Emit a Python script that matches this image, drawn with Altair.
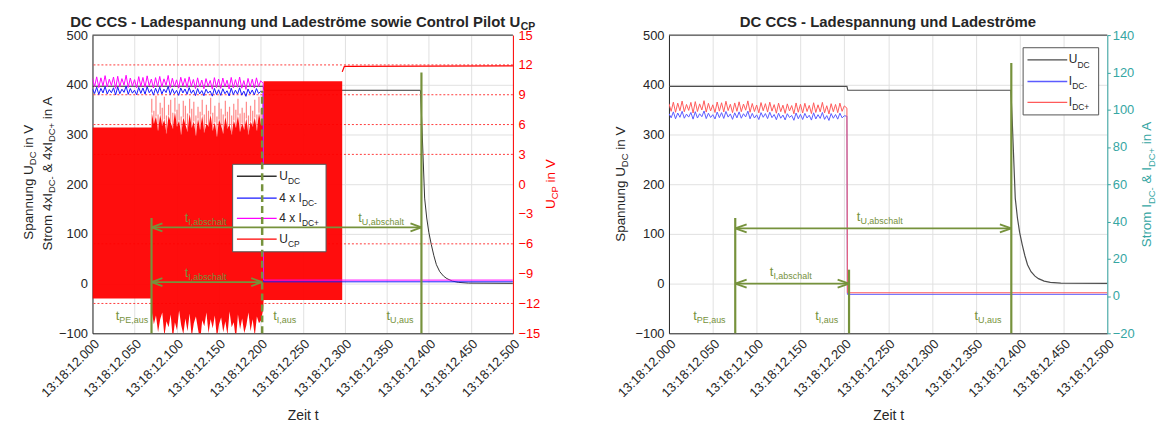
import altair as alt
import pandas as pd

FONT = "Liberation Sans"
INK = "#262626"
GRID = "#E1E1E1"
GREEN = "#76923C"
RED = "#FF0000"
TEAL = "#36A6A3"
W_L, W_R, H = 423, 441, 300

# ---------------- values ----------------
X_TICKS = [0.0, 0.05, 0.1, 0.15, 0.2, 0.25, 0.3, 0.35, 0.4, 0.45, 0.5]
X_LABELS = ["13:18:12.000", "13:18:12.050", "13:18:12.100", "13:18:12.150",
            "13:18:12.200", "13:18:12.250", "13:18:12.300", "13:18:12.350",
            "13:18:12.400", "13:18:12.450", "13:18:12.500"]
U_TICKS = [-100, 0, 100, 200, 300, 400, 500]
CP_TICKS = [-15, -12, -9, -6, -3, 0, 3, 6, 9, 12, 15]
I_TICKS = [-20, 0, 20, 40, 60, 80, 100, 120, 140]
CP_LEVELS = [12, 9, 6, 3, -6, -12]

# charging voltage U_DC (V)
T_U = [0.0, 0.2030, 0.2040, 0.3900, 0.3915, 0.3930, 0.3950, 0.3975, 0.4000,
       0.4030, 0.4060, 0.4090, 0.4130, 0.4175, 0.4215, 0.4280, 0.4350, 0.4470, 0.5000]
U_DC = [397, 397, 389, 389, 330, 262, 172, 132, 103, 78, 56, 38, 24, 15, 10, 5, 2.5, 1, 0.5]

# charging currents (A), sampled every 2.5 ms until the switch-off
I_STEP = 0.0025
I_PLUS_RIPPLE = [
    103.2, 99.1, 104.0, 98.6, 103.5, 99.4, 104.6, 98.9, 102.8, 99.6, 103.9, 98.2, 104.3, 99.0, 103.1, 99.8, 104.8, 98.7, 103.4, 99.3,
    102.6, 98.5, 104.1, 99.2, 103.7, 98.8, 104.5, 99.5, 102.9, 98.4, 103.6, 99.1, 104.2, 98.9, 103.0, 99.7, 104.7, 98.6, 103.3, 99.0,
    102.5, 98.3, 103.8, 99.4, 103.2, 98.7, 104.0, 99.2, 102.7, 98.1, 103.5, 98.9, 102.4, 98.0, 103.1, 99.3, 102.2, 97.8, 103.6, 98.6,
    102.9, 98.2, 103.4, 99.0, 102.3, 97.9, 103.7, 98.5, 102.6, 98.8, 103.9, 98.3, 102.1, 97.7, 103.2, 98.9, 102.8, 98.4, 103.5, 99.1, 102.0]
I_MINUS_RIPPLE = [
    97.9, 95.6, 98.8, 95.1, 98.2, 95.9, 99.1, 95.4, 97.6, 96.0, 98.5, 94.9, 98.9, 95.5, 97.8, 96.2, 99.3, 95.2, 98.1, 95.8,
    97.3, 95.0, 98.7, 95.7, 98.4, 95.3, 99.0, 96.0, 97.7, 94.8, 98.3, 95.6, 98.8, 95.4, 97.8, 96.1, 99.2, 95.1, 98.0, 95.5,
    97.2, 94.7, 98.4, 95.9, 97.9, 95.2, 98.6, 95.7, 97.4, 94.6, 98.1, 95.4, 97.1, 94.5, 97.8, 95.8, 96.9, 94.3, 98.2, 95.1,
    97.5, 94.7, 98.0, 95.5, 97.0, 94.4, 98.3, 95.0, 97.3, 95.3, 98.5, 94.8, 96.8, 94.2, 97.9, 95.4, 97.4, 94.9, 98.1, 95.6, 96.7]
T_I_AFTER = [0.2030, 0.2035, 0.5000]
I_PLUS_AFTER = [100.8, 1.75, 1.75]
I_MINUS_AFTER = [96.5, 0.9, 0.9]

# control pilot U_CP (V): envelope of the PWM signal
CP_A_T = [0.0, 0.0702]
CP_A_LO = [-11.5, -11.5]
CP_A_HI = [5.7, 5.7]
CP_B_T0, CP_B_STEP = 0.0705, 0.0025
CP_B_HI = [7.2, 6.1, 6.8, 5.4, 7.0, 5.9, 6.5, 5.1, 6.9, 6.2, 5.6, 7.3, 5.8, 6.4, 5.0, 6.7, 6.0, 5.3, 7.1, 5.7,
           6.3, 4.9, 6.6, 5.5, 6.9, 5.2, 6.1, 5.8, 7.0, 5.4, 6.2, 4.8, 6.5, 5.9, 5.1, 6.8, 5.6, 6.0, 5.0, 6.4,
           5.7, 6.9, 5.3, 6.1, 5.5, 6.6, 5.0, 6.3, 5.8, 6.7, 5.4, 7.2, 6.0, 6.5]
CP_B_SP = [8.6, 7.4, 8.9, 7.0, 8.2, 7.7, 8.8, 6.9, 8.0, 8.5, 7.2, 8.7, 7.5, 8.1, 6.8, 8.4, 7.9, 7.1, 8.6, 7.6,
           8.3, 6.9, 7.8, 7.3, 8.5, 7.0, 8.0, 7.4, 8.7, 7.2, 7.9, 6.8, 8.2, 7.6, 7.0, 8.4, 7.3, 7.8, 6.9, 8.1,
           7.5, 8.6, 7.1, 7.7, 7.2, 8.3, 6.9, 7.9, 7.4, 8.5, 7.0, 8.8, 7.6, 9.0]
CP_B_LO = [-12.8, -14.1, -13.2, -14.9, -13.6, -12.9, -15.3, -13.8, -14.4, -13.1, -15.6, -13.9, -14.7, -12.7, -14.2,
           -15.1, -13.5, -14.8, -13.0, -15.4, -14.0, -13.3, -14.6, -15.8, -13.7, -14.3, -12.9, -15.0, -13.6, -14.5,
           -13.2, -15.5, -14.1, -13.4, -14.9, -13.8, -15.2, -12.8, -14.4, -13.9, -15.7, -13.1, -14.6, -13.5, -15.0,
           -14.2, -12.9, -14.8, -13.6, -15.3, -13.3, -14.0, -13.7, -12.6]
CP_C_T = [0.2035, 0.2970]
CP_C_LO = [-11.66, -11.66]
CP_C_HI = [10.35, 10.35]
CP_D_T = [0.2970, 0.2995, 0.5000]
CP_D_V = [11.3, 11.85, 11.9]

# annotations (green), left panel, in V of the left axis
L_VLINE_X = [0.0702, 0.3912]
L_VLINE_TOP = [132, 425]
L_DASH_X = [0.2018]
L_DASH_TOP = [388]
L_ARROW_X0 = [0.0702, 0.0702]
L_ARROW_X1 = [0.3912, 0.2018]
L_ARROW_Y = [113, 3]
L_LAB_SUB = ["I,abschalt", "U,abschalt", "I,abschalt", "PE,aus", "I,aus", "U,aus"]
L_LAB_X = [0.1096, 0.3160, 0.1096, 0.0276, 0.2150, 0.3496]
L_LAB_Y = [132, 132, 22, -65, -65, -65]
# right panel
R_VLINE_X = [0.0756, 0.2054, 0.3905]
R_VLINE_TOP = [132, 28, 444]
R_ARROW_X0 = [0.0756, 0.0756]
R_ARROW_X1 = [0.3905, 0.2054]
R_ARROW_Y = [111, 0]
R_LAB_SUB = ["U,abschalt", "I,abschalt", "PE,aus", "I,aus", "U,aus"]
R_LAB_X = [0.2143, 0.1150, 0.0276, 0.1668, 0.3485]
R_LAB_Y = [133, 24, -64.5, -64.5, -64.5]

# ---------------- text helpers ----------------
def _table(groups):
    d = {}
    for chars, w in groups:
        for c in chars:
            d[c] = w
    return d

AR = _table([(" ,.:ftI", 278), ("ijl", 222), ("-r", 333), ("cksvxyzJ", 500),
             ("abdeghnopquL0123456789ö", 556), ("+", 584), ("FTZ", 611),
             ("ABEKPSVXY&", 667), ("CDHNRUw", 722), ("GOQ", 778), ("mM", 833), ("W", 944)])
ARB = _table([(" ,.:iIlj", 278), ("-tf", 333), ("r", 389), ("acesxyzkvJ0123456789", 556),
              ("+", 584), ("bdghnopquLFTöZ", 611), ("EPSVXYK", 667), ("ABCDHNRU&", 722),
              ("wGOQ", 778), ("M", 833), ("m", 889)])

def tw(s, size, bold=False):
    tab = ARB if bold else AR
    return sum(tab.get(c, 556) for c in s) * size / 1000.0

ONE = pd.DataFrame({"k": [0]})

def rich(pieces, x, y, size, sub, color, angle=0, align="center", bold=False, subdy=4.0):
    ws = [tw(t, sub if s else size, bold) for t, s in pieces]
    total = sum(ws)
    cur = {"center": -total / 2.0, "left": 0.0, "right": -total}[align]
    out = []
    for (t, s), w in zip(pieces, ws):
        fs = sub if s else size
        body = t.lstrip(" ")
        lead = tw(t[: len(t) - len(body)], fs, bold)  # Vega trims leading blanks: shift instead
        mk = dict(text=body, align="left", baseline="alphabetic", dx=cur + lead, font=FONT,
                  fontSize=fs, fontWeight="bold" if bold else "normal", color=color)
        if s:
            mk["dy"] = subdy
        if angle:
            mk["angle"] = angle
        out.append(alt.Chart(ONE).mark_text(**mk).encode(x=alt.value(x), y=alt.value(y)))
        cur += w
    return out

def legend(entries, colors, box, ys, lx, tx):
    x0, y0, x1, y1 = box
    layers = [alt.Chart(ONE).mark_rect(fill="white", stroke="#555555", strokeWidth=1).encode(
        x=alt.value(x0), x2=alt.value(x1), y=alt.value(y0), y2=alt.value(y1))]
    for (m, s), c, yy in zip(entries, colors, ys):
        layers.append(alt.Chart(ONE).mark_rule(color=c, strokeWidth=1.3).encode(
            x=alt.value(lx[0]), x2=alt.value(lx[1]), y=alt.value(yy)))
        layers += rich([(m, False), (s, True)], tx, yy + 3.5, 12, 8.5, INK, align="left", subdy=4.5)
    return layers

# ---------------- scales / axes ----------------
LABEL_EXPR = "[" + ",".join("'%s'" % s for s in X_LABELS) + "][round(datum.value * 20)]"
X_SCALE = alt.Scale(domain=[0, 0.5], nice=False, zero=False)
X_AXIS = alt.Axis(values=X_TICKS, labelExpr=LABEL_EXPR, labelAngle=-45, labelAlign="right",
                  labelBaseline="top", labelFontSize=13, labelColor=INK, labelFont=FONT,
                  labelPadding=4, ticks=False, domainColor=INK, grid=True, gridColor=GRID,
                  labelFlush=False, labelOverlap=False, title="Zeit t", titleFont=FONT,
                  titleFontSize=14, titleFontWeight="normal", titleColor=INK, titlePadding=9)
U_SCALE = alt.Scale(domain=[-100, 500], nice=False, zero=False)
U_AXIS = alt.Axis(values=U_TICKS, orient="left", labelFontSize=13, labelColor=INK, labelFont=FONT,
                  ticks=False, labelPadding=5, domainColor=INK, grid=True, gridColor=GRID,
                  labelFlush=False, labelOverlap=False, title=None)
CP_SCALE = alt.Scale(domain=[-15, 15], nice=False, zero=False)
CP_AXIS = alt.Axis(values=CP_TICKS, orient="right", labelFontSize=13, labelColor=RED, labelFont=FONT,
                   ticks=False, labelPadding=5, domainColor=RED, grid=False,
                   labelFlush=False, labelOverlap=False, title=None)
I_SCALE = alt.Scale(domain=[-20, 140], nice=False, zero=False)
I_AXIS = alt.Axis(values=I_TICKS, orient="right", labelFontSize=13, labelColor=TEAL, labelFont=FONT,
                  ticks=True, tickSize=3, tickColor=TEAL, labelPadding=2, domainColor=TEAL, grid=False,
                  labelFlush=False, labelOverlap=False, title=None)

def X(f):
    return alt.X(f + ":Q", scale=X_SCALE, axis=X_AXIS)

def YU(f):
    return alt.Y(f + ":Q", scale=U_SCALE, axis=U_AXIS)

def YU3(f):
    return alt.Y(f + ":Q", scale=U_SCALE, axis=None)

def YCP(f):
    return alt.Y(f + ":Q", scale=CP_SCALE, axis=CP_AXIS)

def YI(f):
    return alt.Y(f + ":Q", scale=I_SCALE, axis=I_AXIS)

# ---------------- tables ----------------
udc_df = pd.DataFrame({"t": T_U, "u": U_DC})
t_i = [round(i * I_STEP, 4) for i in range(len(I_PLUS_RIPPLE))] + T_I_AFTER
cur_df = pd.DataFrame({"t": t_i, "ip": I_PLUS_RIPPLE + I_PLUS_AFTER, "im": I_MINUS_RIPPLE + I_MINUS_AFTER})
cur_df["ip4"] = 4 * cur_df["ip"]
cur_df["im4"] = 4 * cur_df["im"]

t_b = [round(CP_B_T0 + i * CP_B_STEP, 4) for i in range(len(CP_B_HI))]
core_df = pd.DataFrame({"t": CP_A_T + t_b + CP_C_T,
                        "lo": CP_A_LO + CP_B_LO + CP_C_LO,
                        "hi": CP_A_HI + CP_B_HI + CP_C_HI})
spike_df = pd.DataFrame({"t": t_b, "hi": CP_B_HI, "sp": CP_B_SP})
d_df = pd.DataFrame({"t": CP_D_T, "v": CP_D_V})
lev_df = pd.DataFrame({"v": CP_LEVELS})

HEAD_DX, HEAD_DY = 0.013, 8.0

def annotations(vx, vtop, dx_, dtop, ax0, ax1, ay, lsub, lx, ly):
    layers = []
    vdf = pd.DataFrame({"x": vx, "y1": vtop})
    vdf["y0"] = U_TICKS[0]
    layers.append(alt.Chart(vdf).mark_rule(color=GREEN, strokeWidth=2.2).encode(
        x=X("x"), y=YU3("y0"), y2=alt.Y2("y1")))
    if dx_:
        ddf = pd.DataFrame({"x": dx_, "y1": dtop})
        ddf["y0"] = U_TICKS[0]
        layers.append(alt.Chart(ddf).mark_rule(color=GREEN, strokeWidth=2.5, strokeDash=[7, 4]).encode(
            x=X("x"), y=YU3("y0"), y2=alt.Y2("y1")))
    adf = pd.DataFrame({"x0": ax0, "x1": ax1, "y": ay})
    layers.append(alt.Chart(adf).mark_rule(color=GREEN, strokeWidth=1.8).encode(
        x=X("x0"), x2=alt.X2("x1"), y=YU3("y")))
    rows = []
    for a, b, yy in zip(ax0, ax1, ay):
        for sgn in (1, -1):
            rows.append({"xa": a, "ya": yy, "xb": a + HEAD_DX, "yb": yy + sgn * HEAD_DY})
            rows.append({"xa": b, "ya": yy, "xb": b - HEAD_DX, "yb": yy + sgn * HEAD_DY})
    hdf = pd.DataFrame(rows)
    layers.append(alt.Chart(hdf).mark_rule(color=GREEN, strokeWidth=1.8).encode(
        x=X("xa"), y=YU3("ya"), x2=alt.X2("xb"), y2=alt.Y2("yb")))
    ldf = pd.DataFrame({"x": lx, "y": ly, "s": lsub})
    ldf["m"] = "t"
    layers.append(alt.Chart(ldf).mark_text(color=GREEN, font=FONT, fontSize=13, align="left",
                                           baseline="middle").encode(x=X("x"), y=YU3("y"), text="m:N"))
    layers.append(alt.Chart(ldf).mark_text(color=GREEN, font=FONT, fontSize=9, align="left",
                                           baseline="middle", dx=tw("t", 13), dy=4).encode(
        x=X("x"), y=YU3("y"), text="s:N"))
    return layers

def top_border(w):
    return alt.Chart(ONE).mark_rule(color=INK, strokeWidth=1).encode(
        x=alt.value(0), x2=alt.value(w), y=alt.value(0))

# ---------------- left panel ----------------
g1_L = alt.layer(
    alt.Chart(udc_df).mark_line(color="#333333", strokeWidth=1, clip=True).encode(x=X("t"), y=YU("u")),
    *rich([("DC CCS - Ladespannung und Ladeströme sowie Control Pilot U", False), ("CP", True)],
          W_L / 2, -8.6, 15, 10.5, INK, bold=True, subdy=3.5),
    *rich([("Spannung U", False), ("DC", True), (" in V", False)], -60, 148, 13.5, 9.5, INK, angle=270, subdy=3.5),
    *rich([("Strom 4xI", False), ("DC-", True), (" & 4xI", False), ("DC+", True), (" in A", False)],
          -41, 139, 13.5, 9.5, INK, angle=270, subdy=3.5),
    *rich([("U", False), ("CP", True), (" in V", False)], W_L + 42, 150, 13.5, 9.5, RED, angle=270, subdy=3.5),
)
g2_L = alt.layer(
    alt.Chart(lev_df).mark_rule(color="#FF3B3B", strokeWidth=1, strokeDash=[2, 2]).encode(y=YCP("v")),
    alt.Chart(core_df).mark_area(color=RED, opacity=0.95, clip=True).encode(x=X("t"), y=YCP("lo"), y2=alt.Y2("hi")),
    alt.Chart(spike_df).mark_rule(color="#FF6A6A", strokeWidth=1.2, opacity=0.8, clip=True).encode(
        x=X("t"), y=YCP("hi"), y2=alt.Y2("sp")),
    alt.Chart(d_df).mark_line(color=RED, strokeWidth=1.2).encode(x=X("t"), y=YCP("v")),
)
g3_L = alt.layer(
    alt.Chart(cur_df).mark_line(color="#1A1AFF", strokeWidth=1, clip=True).encode(x=X("t"), y=YU3("im4")),
    alt.Chart(cur_df).mark_line(color="#FF00FF", strokeWidth=1, clip=True).encode(x=X("t"), y=YU3("ip4")),
    top_border(W_L),
    *legend([("U", "DC"), ("4 x I", "DC-"), ("4 x I", "DC+"), ("U", "CP")],
            ["#333333", "#1A1AFF", "#FF00FF", RED],
            (141, 130, 235, 218), [142, 164, 184.3, 205.3], (145.3, 185.3), 188),
    *annotations(L_VLINE_X, L_VLINE_TOP, L_DASH_X, L_DASH_TOP, L_ARROW_X0, L_ARROW_X1, L_ARROW_Y,
                 L_LAB_SUB, L_LAB_X, L_LAB_Y),
)
left = alt.layer(g1_L, g2_L, g3_L).resolve_scale(y="independent").properties(width=W_L, height=H)

# ---------------- right panel ----------------
g1_R = alt.layer(
    alt.Chart(udc_df).mark_line(color="#4D4D4D", strokeWidth=1.2, clip=True).encode(x=X("t"), y=YU("u")),
    *rich([("DC CCS - Ladespannung und Ladeströme", False)], W_R / 2, -8.6, 15, 10.5, INK, bold=True),
    *rich([("Spannung U", False), ("DC", True), (" in V", False)], -44.5, 150, 13.5, 9.5, INK, angle=270, subdy=3.5),
    *rich([("Strom I", False), ("DC-", True), (" & I", False), ("DC+", True), (" in A", False)],
          W_R + 44, 150, 13.5, 9.5, TEAL, angle=270, subdy=3.5),
)
g2_R = alt.layer(
    alt.Chart(cur_df).mark_line(color="#5C5CFF", strokeWidth=1, clip=True).encode(x=X("t"), y=YI("im")),
    alt.Chart(cur_df).mark_line(color="#FF5A5A", strokeWidth=1, clip=True).encode(x=X("t"), y=YI("ip")),
)
g3_R = alt.layer(
    top_border(W_R),
    *legend([("U", "DC"), ("I", "DC-"), ("I", "DC+")],
            ["#4D4D4D", "#5C5CFF", "#FF5A5A"],
            (356.3, 12.7, 432.3, 80.3), [25, 46.7, 67.7], (360.7, 400.7), 402.3),
    *annotations(R_VLINE_X, R_VLINE_TOP, [], [], R_ARROW_X0, R_ARROW_X1, R_ARROW_Y,
                 R_LAB_SUB, R_LAB_X, R_LAB_Y),
)
right = alt.layer(g1_R, g2_R, g3_R).resolve_scale(y="independent").properties(width=W_R, height=H)

chart = alt.hconcat(left, right, spacing=54).properties(
    padding={"left": 14, "top": 5, "right": 0, "bottom": 0}
).configure_view(strokeWidth=0)

chart.save("out.html", embed_options={"renderer": "svg", "actions": False})
